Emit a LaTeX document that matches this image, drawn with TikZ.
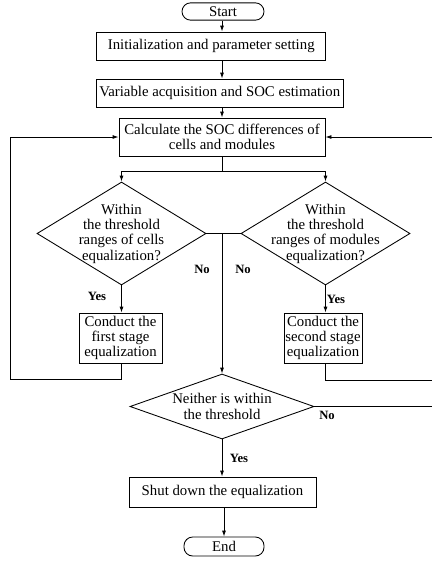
\documentclass[tikz,border=0pt]{standalone}
\usepackage{fontspec}
\setmainfont{Liberation Serif}
\usetikzlibrary{shapes.geometric,arrows.meta}
\tikzset{
  base/.style={draw, line width=0.65pt, inner sep=0pt, align=center, font=\fontsize{11.1}{11.5}\selectfont},
  proc/.style={base, rectangle},
  term/.style={base, rectangle, rounded corners=6.5pt},
  dec/.style={draw, line width=0.65pt, diamond, inner sep=0pt},
  dtext/.style={align=center, inner sep=0pt, font=\fontsize{11.1}{11.5}\selectfont},
  lab/.style={inner sep=0pt, font=\fontsize{9.5}{10}\selectfont\bfseries},
  conn/.style={line width=0.65pt},
  arr/.style={conn, -{Latex[length=4.5pt,width=3pt]}}
}
\begin{document}
\begin{tikzpicture}[x=0.75pt,y=-0.75pt]
\useasboundingbox (0,0) rectangle (432,561);
\clip (0,0) rectangle (432,561);
% nodes
\node[term, minimum width=61.5pt, minimum height=13pt] (start) at (223,11.5) {Start};
\node[proc, minimum width=172pt, minimum height=21pt] (init) at (211.25,46) {Initialization and parameter setting};
\node[proc, minimum width=185pt, minimum height=21pt] (var) at (219.75,93) {Variable acquisition and SOC estimation};
\node[proc, minimum width=154.5pt, minimum height=28.5pt] (calc) at (222,137) {Calculate the SOC differences of\\cells and modules};
\node[dec, minimum width=126.75pt, minimum height=77.25pt] (d1) at (121.5,233.5) {};
\node[dtext] (t1) at (d1.center) {Within\\the threshold\\ranges of cells\\equalization?};
\node[dec, minimum width=126.75pt, minimum height=77.25pt] (d2) at (325.5,233.5) {};
\node[dtext] (t2) at (d2.center) {Within\\the threshold\\ranges of modules\\equalization?};
\node[proc, minimum width=62.25pt, minimum height=37.5pt] (b1) at (120.5,338) {Conduct the\\first stage\\equalization};
\node[proc, minimum width=58.5pt, minimum height=37.5pt] (b2) at (323,338) {Conduct the\\second stage\\equalization};
\node[dec, minimum width=138pt, minimum height=48.75pt] (nei) at (222,406.5) {};
\node[dtext] (t3) at (nei.center) {Neither is within\\the threshold};
\node[proc, minimum width=140.25pt, minimum height=22.5pt] (shut) at (222.5,492) {Shut down the equalization};
\node[term, minimum width=60pt, minimum height=14.25pt] (end) at (224,546.5) {End};
% coordinates
\coordinate (split) at (222,171);
\coordinate (Lb) at (10,379);
\coordinate (Rb) at (440,380);
\coordinate (Rn) at (440,406.5);
% connectors
\draw[arr] (start.south -| split) -- (split |- init.north);
\draw[arr] (split |- init.south) -- (split |- var.north);
\draw[arr] (split |- var.south) -- (split |- calc.north);
\draw[conn] (split |- calc.south) -- (split);
\draw[arr] (split) -| (d1.north);
\draw[arr] (split) -| (d2.north);
\draw[conn] (d1.east) -- (d2.west);
\draw[arr] (split |- d1.east) -- (nei.north);
\draw[arr] (d1.south) -- (d1.south |- b1.north);
\draw[arr] (d2.south) -- (d2.south |- b2.north);
\draw[arr] (d1.south |- b1.south) |- (Lb) |- (calc.west);
\draw[arr] (d2.south |- b2.south) |- (Rb) |- (calc.east);
\draw[conn] (nei.east) -- (Rn) -- (Rb);
\draw[arr] (nei.south) -- (nei.south |- shut.north);
\draw[arr] (end.north |- shut.south) -- (end.north);
% labels
\node[lab] (n1) at (202,269) {No};
\node[lab] (n2) at (243,269) {No};
\node[lab] (y1) at (97,296) {Yes};
\node[lab] (y2) at (336,299) {Yes};
\node[lab] (n3) at (327,415) {No};
\node[lab] (y3) at (239,458) {Yes};
\end{tikzpicture}
\end{document}
